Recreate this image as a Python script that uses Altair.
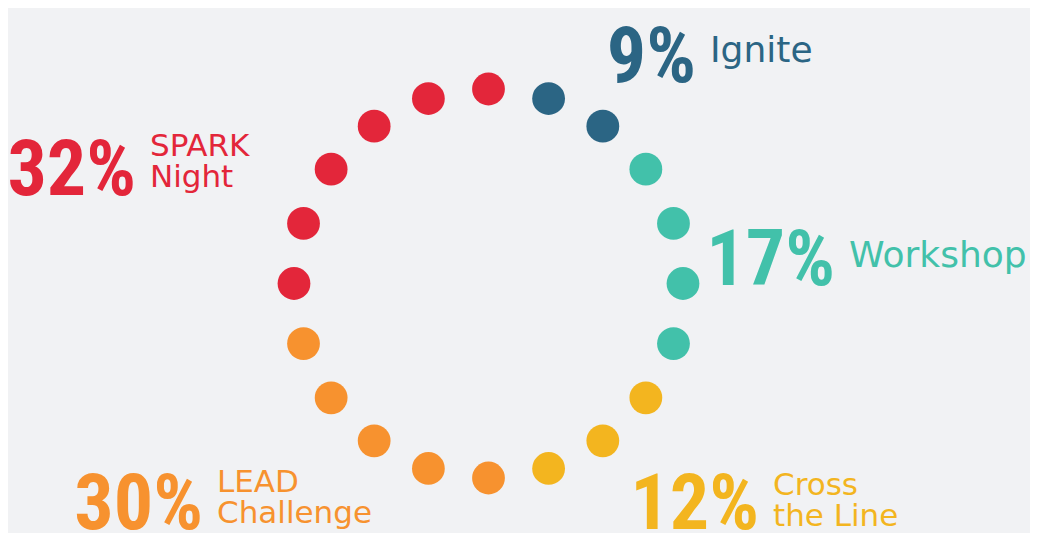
import altair as alt
import pandas as pd

# ---- data ----
categories = ["Ignite", "Workshop", "Cross the Line", "LEAD Challenge", "SPARK Night"]
percents = [9, 17, 12, 30, 32]
dot_counts = [2, 4, 3, 5, 6]
name_lines = ["Ignite", "Workshop", "Cross\nthe Line", "LEAD\nChallenge", "SPARK\nNight"]
colors = ["#2b6584", "#42c1aa", "#f3b51f", "#f7922f", "#e3263a"]

# ---- layout (ring units: ring radius = 1, centre = 0,0) ----
num_pos = [(1.0668, 1.036), (1.7815, -0.0077), (1.3907, -1.2622), (-1.4679, -1.2622), (-1.8123, 0.455)]
name_pos = [(1.1388, 1.1388), (1.8535, 0.0848), (1.4627, -1.0874), (-1.3959, -1.072), (-1.7404, 0.6555)]
name_size = [36, 36, 31, 31, 31]

BG = "#f1f2f4"
W, H = 1022, 525
xdom = [-2.4704, 2.7841]
ydom = [-1.2828, 1.4165]

rows = []
k = 1
for cat, n in zip(categories, dot_counts):
    for _ in range(n):
        rows.append({"k": k, "cat": cat})
        k += 1
total = k - 1
dots = pd.DataFrame(rows)

labels = pd.DataFrame({
    "cat": categories,
    "pct": [f"{p}%" for p in percents],
    "name": name_lines,
    "nx": [p[0] for p in num_pos],
    "ny": [p[1] for p in num_pos],
    "tx": [p[0] for p in name_pos],
    "ty": [p[1] for p in name_pos],
    "fs": name_size,
})

xs = alt.Scale(domain=xdom, nice=False, zero=False)
ys = alt.Scale(domain=ydom, nice=False, zero=False)
cs = alt.Scale(domain=categories, range=colors)

ring = alt.Chart(dots).transform_calculate(
    x=f"sin(datum.k * 2 * PI / {total})",
    y=f"cos(datum.k * 2 * PI / {total})",
).mark_point(filled=True, shape="circle", size=1075, opacity=1).encode(
    x=alt.X("x:Q", scale=xs, axis=None),
    y=alt.Y("y:Q", scale=ys, axis=None),
    color=alt.Color("cat:N", scale=cs, legend=None),
)

nums = alt.Chart(labels).mark_text(
    font="Roboto Condensed", fontWeight="bold", fontSize=78,
    align="right", baseline="alphabetic",
).encode(
    x=alt.X("nx:Q", scale=xs, axis=None),
    y=alt.Y("ny:Q", scale=ys, axis=None),
    text="pct:N",
    color=alt.Color("cat:N", scale=cs, legend=None),
)

names = alt.Chart(labels).mark_text(
    font="DejaVu Sans", fontWeight="normal",
    align="left", baseline="alphabetic", lineBreak="\n", lineHeight=31,
).encode(
    x=alt.X("tx:Q", scale=xs, axis=None),
    y=alt.Y("ty:Q", scale=ys, axis=None),
    text="name:N",
    size=alt.Size("fs:Q", scale=None, legend=None),
    color=alt.Color("cat:N", scale=cs, legend=None),
)

chart = alt.layer(ring, nums, names).properties(
    width=W, height=H, background=BG, padding=0,
    autosize=alt.AutoSizeParams(type="none"),
).configure_view(stroke=None)

chart.save("out.html", embed_options={"renderer": "svg", "actions": False})
